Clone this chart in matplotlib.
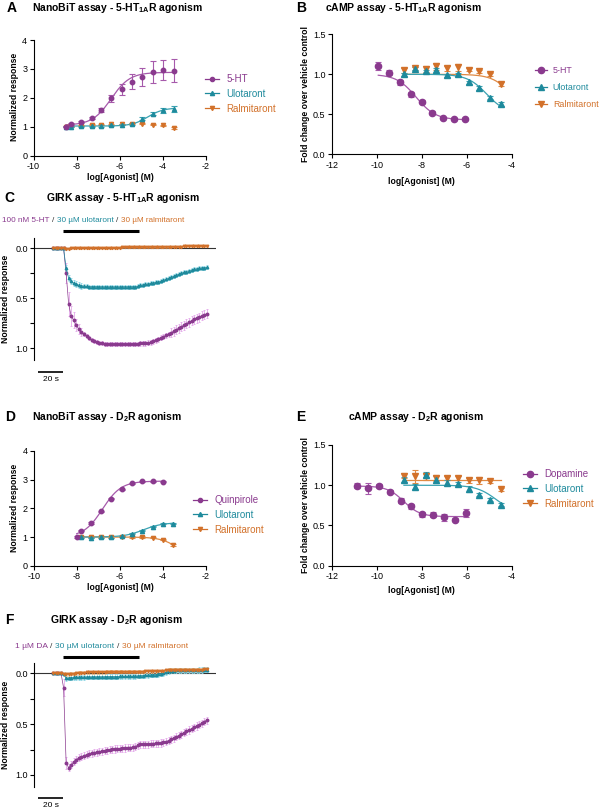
import numpy as np
import matplotlib
matplotlib.use("Agg")
import matplotlib.pyplot as plt
from matplotlib.lines import Line2D

plt.rcParams.update({
    "font.family": ["Liberation Sans", "DejaVu Sans"],
    "mathtext.fontset": "custom",
    "mathtext.rm": "Liberation Sans",
    "mathtext.bf": "Liberation Sans:bold",
    "axes.unicode_minus": False,
    "axes.linewidth": 0.8,
})

W, H = 600, 809

PURPLE, PURPLE_L, PURPLE_E = "#8a3a8e", "#a65aab", "#e4a8ea"
TEAL, TEAL_L, TEAL_E = "#1e8a9c", "#3aa2b2", "#8fd8e6"
ORANGE, ORANGE_L, ORANGE_E = "#d2712a", "#e08a44", "#f0c08e"

# ---- A: NanoBiT 5-HT1A
A_X = [-8.5, -8.25, -7.8, -7.3, -6.85, -6.4, -5.9, -5.45, -4.95, -4.45, -4.0, -3.5]
A_5HT = [1.0, 1.08, 1.15, 1.29, 1.58, 1.98, 2.29, 2.56, 2.72, 2.9, 2.96, 2.94]
A_5HT_ERR = [0.02, 0.03, 0.04, 0.04, 0.06, 0.12, 0.2, 0.25, 0.3, 0.38, 0.35, 0.4]
A_ULO = [1.0, 1.0, 1.01, 1.01, 1.02, 1.04, 1.06, 1.1, 1.28, 1.45, 1.56, 1.61]
A_ULO_ERR = [0.02, 0.02, 0.02, 0.02, 0.02, 0.02, 0.02, 0.03, 0.05, 0.06, 0.1, 0.1]
A_RAL = [1.0, 1.01, 1.03, 1.06, 1.07, 1.08, 1.08, 1.1, 1.1, 1.07, 1.04, 0.95]
A_RAL_ERR = [0.02] * 12
A_FIT_5HT = (1.05, 2.88, -6.4, 1.0)
A_FIT_ULO = (1.02, 1.65, -4.7, 1.2)

# ---- B: cAMP 5-HT1A
B_X_5HT = [-9.93, -9.44, -8.95, -8.47, -8.0, -7.53, -7.04, -6.56, -6.07]
B_5HT = [1.10, 1.02, 0.90, 0.75, 0.66, 0.52, 0.45, 0.44, 0.44]
B_5HT_ERR = [0.05, 0.03, 0.03, 0.03, 0.02, 0.02, 0.01, 0.01, 0.01]
B_X_DRUG = [-8.79, -8.3, -7.82, -7.35, -6.87, -6.4, -5.91, -5.44, -4.96, -4.47]
B_ULO = [1.0, 1.07, 1.04, 1.05, 0.99, 1.0, 0.9, 0.83, 0.71, 0.63]
B_ULO_ERR = [0.02, 0.02, 0.02, 0.03, 0.02, 0.02, 0.02, 0.02, 0.02, 0.03]
B_RAL = [1.05, 1.075, 1.07, 1.10, 1.075, 1.087, 1.06, 1.04, 1.0, 0.88]
B_RAL_ERR = [0.03, 0.02, 0.04, 0.04, 0.03, 0.04, 0.02, 0.02, 0.02, 0.03]
B_FIT_5HT = (1.0, 0.43, -8.25, 1.0)
B_FIT_ULO = (1.0, 0.5, -5.1, 1.0)
B_FIT_RAL = (1.0, 0.5, -4.0, 1.0)

# ---- D: NanoBiT D2
D_X_QUIN = [-8.0, -7.8, -7.33, -6.87, -6.39, -5.91, -5.43, -4.95, -4.47, -4.0]
D_QUIN = [1.0, 1.22, 1.49, 1.9, 2.34, 2.66, 2.87, 2.95, 2.94, 2.93]
D_X_DRUG = [-7.8, -7.33, -6.87, -6.39, -5.91, -5.43, -4.95, -4.47, -4.0, -3.5]
D_ULO = [1.0, 0.98, 1.0, 1.0, 1.03, 1.11, 1.22, 1.36, 1.46, 1.47]
D_RAL = [1.0, 1.0, 1.0, 1.0, 1.01, 1.0, 1.0, 0.97, 0.91, 0.72]
D_ERR = [0.02] * 10
D_FIT_QUIN = (1.0, 2.95, -6.8, 1.0)
D_FIT_ULO = (1.0, 1.5, -4.9, 1.0)
D_FIT_RAL = (1.0, 0.0, -3.1, 1.0)

# ---- E: cAMP D2
E_X_DA = [-10.86, -10.39, -9.91, -9.42, -8.93, -8.46, -7.99, -7.5, -7.02, -6.53, -6.04]
E_DA = [0.996, 0.96, 0.99, 0.92, 0.81, 0.74, 0.64, 0.635, 0.60, 0.57, 0.66]
E_DA_ERR = [0.03, 0.07, 0.02, 0.02, 0.03, 0.03, 0.03, 0.03, 0.04, 0.02, 0.05]
E_X_DRUG = [-8.79, -8.3, -7.82, -7.35, -6.87, -6.4, -5.91, -5.44, -4.96, -4.47]
E_ULO = [1.07, 0.98, 1.13, 1.07, 1.03, 1.02, 0.95, 0.88, 0.82, 0.76]
E_ULO_ERR = [0.03, 0.03, 0.03, 0.04, 0.03, 0.02, 0.04, 0.02, 0.02, 0.02]
E_RAL = [1.12, 1.11, 1.11, 1.09, 1.09, 1.09, 1.06, 1.06, 1.05, 0.95]
E_RAL_ERR = [0.03, 0.08, 0.04, 0.04, 0.03, 0.03, 0.03, 0.04, 0.02, 0.02]
E_FIT_DA = (0.99, 0.61, -8.8, 1.2)
E_FIT_ULO = (1.0, 0.65, -4.7, 1.0)
E_FIT_RAL = (1.06, 1.06, -6.0, 1.0)

# ---- GIRK traces (sampled every 2 s, 0..120 s)
T_STEP = 2
C_5HT = [0, 0, 0, 0, 0,
         0.25, 0.56, 0.68, 0.72, 0.77, 0.81, 0.84, 0.86, 0.88, 0.90,
         0.92, 0.93, 0.94, 0.945, 0.95, 0.952, 0.955, 0.957, 0.958, 0.96,
         0.96, 0.96, 0.96, 0.96, 0.96, 0.96, 0.958, 0.957, 0.955, 0.95,
         0.95, 0.948, 0.945, 0.94, 0.93, 0.92, 0.91, 0.895, 0.885, 0.87,
         0.86, 0.845, 0.83, 0.815, 0.80, 0.785, 0.77, 0.755, 0.74, 0.725,
         0.71, 0.70, 0.69, 0.675, 0.665, 0.655]
C_5HT_ERR = [0.005] * 5 + [0.1, 0.12, 0.1, 0.08, 0.06, 0.05, 0.04] + [0.02] * 22 + [0.025] * 12 + [0.045] * 15
C_ULO = [0, 0, 0, 0, 0,
         0.2, 0.3, 0.33, 0.35, 0.36, 0.37, 0.375, 0.378, 0.38,
         0.382, 0.382, 0.383, 0.383, 0.384, 0.384, 0.385, 0.385, 0.385, 0.385,
         0.385, 0.385, 0.385, 0.384, 0.384, 0.384, 0.383, 0.383, 0.383,
         0.38, 0.37, 0.365, 0.36, 0.355, 0.35, 0.345, 0.34, 0.335, 0.33,
         0.32, 0.31, 0.30, 0.29, 0.28, 0.27, 0.26, 0.25, 0.24, 0.232,
         0.225, 0.218, 0.21, 0.205, 0.2, 0.195, 0.192, 0.19]
C_ULO_ERR = [0.005] * 5 + [0.03] * 7 + [0.02] * 49
C_RAL = [0, 0, 0, 0, 0,
         0.002, 0.002, 0.001, 0.001, 0.0, 0.0, -0.001, -0.001, -0.002, -0.002,
         -0.003, -0.003, -0.004, -0.004, -0.005, -0.005, -0.006, -0.006, -0.007, -0.007,
         -0.008, -0.008, -0.009, -0.009, -0.01, -0.01, -0.011, -0.011, -0.012, -0.012,
         -0.012, -0.013, -0.013, -0.014, -0.014, -0.015, -0.015, -0.015, -0.016, -0.016,
         -0.016, -0.017, -0.017, -0.018, -0.018, -0.018, -0.019, -0.019, -0.02, -0.02,
         -0.02, -0.021, -0.021, -0.022, -0.022, -0.022]
C_RAL_ERR = [0.008] * 61

F_DA = [0, 0, 0, 0, 0.14,
        0.88, 0.93, 0.90, 0.87, 0.85, 0.83, 0.82, 0.81, 0.80, 0.79,
        0.785, 0.78, 0.775, 0.77, 0.765, 0.76, 0.755, 0.75, 0.748, 0.745,
        0.742, 0.74, 0.738, 0.735, 0.733, 0.73, 0.728, 0.72, 0.71, 0.70,
        0.70, 0.698, 0.696, 0.694, 0.692, 0.69, 0.688, 0.685, 0.68, 0.672,
        0.662, 0.65, 0.638, 0.625, 0.612, 0.598, 0.585, 0.572, 0.558, 0.545,
        0.532, 0.518, 0.505, 0.49, 0.475, 0.46]
F_DA_ERR = [0.005] * 4 + [0.08, 0.06] + [0.035] * 55
F_ULO = [0, 0, 0, 0, 0.01,
         0.05, 0.045, 0.042, 0.04,
         0.038, 0.038, 0.037, 0.037, 0.036, 0.036, 0.036, 0.035, 0.035, 0.035, 0.035, 0.034,
         0.034, 0.033, 0.033, 0.032, 0.032, 0.031, 0.031, 0.030, 0.030, 0.029, 0.029, 0.028,
         0.026, 0.024, 0.022, 0.02, 0.018, 0.016, 0.014, 0.012,
         0.008, 0.004, 0.0, -0.012, -0.022,
         -0.026, -0.027, -0.028, -0.028, -0.029, -0.029, -0.03, -0.03, -0.03,
         -0.031, -0.031, -0.032, -0.032, -0.033, -0.033]
F_ULO_ERR = [0.005] * 5 + [0.025] * 56
F_RAL = [0, 0, 0, 0, 0.005,
         0.01, 0.008, 0.005, 0.003, 0.0, -0.003, -0.005, -0.007, -0.008, -0.009, -0.01,
         -0.011, -0.011, -0.012, -0.012, -0.012, -0.013, -0.013, -0.013, -0.014, -0.014,
         -0.014, -0.015, -0.015, -0.015, -0.016, -0.016, -0.016, -0.017, -0.017, -0.017,
         -0.018, -0.018, -0.018, -0.019, -0.019, -0.019, -0.02, -0.02,
         -0.028, -0.032,
         -0.033, -0.033, -0.034, -0.034, -0.035, -0.035, -0.035, -0.036, -0.036,
         -0.036, -0.037, -0.037, -0.037, -0.038, -0.038]
F_RAL_ERR = [0.005] * 5 + [0.015] * 56

DRUG_ON, DRUG_OFF = 7.3, 67.3  # s, application bar


def hill(x, start, end, logec50, slope):
    return start + (end - start) / (1 + 10 ** ((logec50 - x) * slope))


fig = plt.figure(figsize=(W / 100, H / 100), dpi=100)


def add_ax(l, t, r, b):
    return fig.add_axes([l / W, 1 - b / H, (r - l) / W, (b - t) / H])


def ftext(x, y, s, **kw):
    return fig.text(x / W, 1 - y / H, s, **kw)


def style_dose(ax, xlim, xticks, ylim, yticks, yfmt):
    ax.set_xlim(*xlim)
    ax.set_ylim(*ylim)
    ax.set_xticks(xticks)
    ax.set_yticks(yticks)
    ax.set_xticklabels([f"{v:g}" for v in xticks])
    ax.set_yticklabels([yfmt.format(v) for v in yticks])
    for s in ("top", "right"):
        ax.spines[s].set_visible(False)
    ax.tick_params(direction="out", length=3, width=0.8, labelsize=6.5, pad=1.5)


def series(ax, x, y, err, fit, col, lcol, marker, ms):
    ax.errorbar(x, y, yerr=err, fmt=marker, color=col, ecolor=lcol, ms=ms,
                elinewidth=0.8, capsize=2.2, capthick=0.8, zorder=3, clip_on=False)
    if fit is not None:
        xx = np.linspace(min(x), max(x), 200)
        ax.plot(xx, hill(xx, *fit), color=lcol, lw=0.9, zorder=2)


def legend(x, y, labels, cols, markers, ms, spacing, size=7, pad=0.8):
    handles = [Line2D([0], [0], color=c, marker=m, ms=ms, lw=0.9) for c, m in zip(cols, markers)]
    lg = fig.legend(handles, labels, loc="upper left", bbox_to_anchor=(x / W, 1 - y / H),
                    frameon=False, fontsize=size, handlelength=1.4, handletextpad=pad,
                    labelspacing=spacing, borderpad=0, borderaxespad=0)
    for t, c in zip(lg.get_texts(), cols):
        t.set_color(c)


def panel_title(lx, tx, y, letter, title):
    ftext(lx, y, letter, fontsize=10, fontweight="bold", va="center", ha="center")
    ftext(tx, y, title, fontsize=7.5, fontweight="bold", va="center")


def axis_labels(xc, xy, yx, yc, ylabel):
    ftext(xc, xy, "log[Agonist] (M)", fontsize=6.2, fontweight="bold", ha="center", va="center")
    ftext(yx, yc, ylabel, fontsize=6.2, fontweight="bold", ha="center", va="center", rotation=90)


cols = [PURPLE, TEAL, ORANGE]

# ---------- A
axA = add_ax(33.5, 40, 206, 155.5)
style_dose(axA, (-10, -2), [-10, -8, -6, -4, -2], (0, 4), [0, 1, 2, 3, 4], "{:g}")
series(axA, A_X, A_RAL, A_RAL_ERR, None, ORANGE, ORANGE_L, "v", 3)
series(axA, A_X, A_ULO, A_ULO_ERR, A_FIT_ULO, TEAL, TEAL_L, "^", 3)
series(axA, A_X, A_5HT, A_5HT_ERR, A_FIT_5HT, PURPLE, PURPLE_L, "o", 3.2)
legend(205, 74, ["5-HT", "Ulotaront", "Ralmitaront"], cols, ["o", "^", "v"], 3, 0.5)
panel_title(12, 32, 8, "A", r"NanoBiT assay - 5-HT$_{\mathbf{1A}}$R agonism")
axis_labels(120, 178, 15, 97, "Normalized response")

# ---------- B
axB = add_ax(331.7, 34.3, 511.7, 154.3)
style_dose(axB, (-12, -4), [-12, -10, -8, -6, -4], (0, 1.5), [0, 0.5, 1.0, 1.5], "{:.1f}")
series(axB, B_X_DRUG, B_RAL, B_RAL_ERR, B_FIT_RAL, ORANGE, ORANGE_L, "v", 4.5)
series(axB, B_X_DRUG, B_ULO, B_ULO_ERR, B_FIT_ULO, TEAL, TEAL_L, "^", 4.5)
series(axB, B_X_5HT, B_5HT, B_5HT_ERR, B_FIT_5HT, PURPLE, PURPLE_L, "o", 4.5)
legend(535, 66, ["5-HT", "Ulotaront", "Ralmitaront"], cols, ["o", "^", "v"], 4.5, 0.9, size=6.4, pad=0.6)
panel_title(301, 325, 8, "B", r"cAMP assay - 5-HT$_{\mathbf{1A}}$R agonism")
axis_labels(421.7, 181, 305, 94, "Fold change over vehicle control")

# ---------- D
axD = add_ax(33.7, 451, 205.7, 565.7)
style_dose(axD, (-10, -2), [-10, -8, -6, -4, -2], (0, 4), [0, 1, 2, 3, 4], "{:g}")
series(axD, D_X_DRUG, D_RAL, D_ERR, D_FIT_RAL, ORANGE, ORANGE_L, "v", 3)
series(axD, D_X_DRUG, D_ULO, D_ERR, D_FIT_ULO, TEAL, TEAL_L, "^", 3)
series(axD, D_X_QUIN, D_QUIN, D_ERR, D_FIT_QUIN, PURPLE, PURPLE_L, "o", 3.2)
legend(193, 495, ["Quinpirole", "Ulotaront", "Ralmitaront"], cols, ["o", "^", "v"], 3, 0.5)
panel_title(10, 32, 417, "D", r"NanoBiT assay - D$_{\mathbf{2}}$R agonism")
axis_labels(120, 588, 15, 508, "Normalized response")

# ---------- E
axE = add_ax(331.7, 445, 511.7, 565.7)
style_dose(axE, (-12, -4), [-12, -10, -8, -6, -4], (0, 1.5), [0, 0.5, 1.0, 1.5], "{:.1f}")
series(axE, E_X_DRUG, E_RAL, E_RAL_ERR, E_FIT_RAL, ORANGE, ORANGE_L, "v", 4.5)
series(axE, E_X_DRUG, E_ULO, E_ULO_ERR, E_FIT_ULO, TEAL, TEAL_L, "^", 4.5)
series(axE, E_X_DA, E_DA, E_DA_ERR, E_FIT_DA, PURPLE, PURPLE_L, "o", 4.5)
legend(523, 469, ["Dopamine", "Ulotaront", "Ralmitaront"], cols, ["o", "^", "v"], 4.5, 0.5)
panel_title(301, 348, 417, "E", r"cAMP assay - D$_{\mathbf{2}}$R agonism")
axis_labels(421.7, 590.7, 305, 505, "Fold change over vehicle control")


# ---------- GIRK traces
def girk(ax, traces, bar_y, scale_y):
    t = np.arange(len(traces[0][0])) * T_STEP
    ax.set_xlim(-15.1, 127.1)
    for s in ("top", "right", "bottom"):
        ax.spines[s].set_visible(False)
    ax.set_xticks([])
    ax.set_yticks([0, 0.5, 1.0])
    ax.set_yticklabels(["0.0", "0.5", "1.0"])
    ax.set_yticks([0.25, 0.75], minor=True)
    ax.tick_params(which="both", direction="out", length=3, width=0.8, labelsize=6.5, pad=1.5)
    ax.axhline(0, color="#333333", lw=0.8, zorder=1)
    for (y, err), col, ecol, m in zip(traces, cols, [PURPLE_E, TEAL_E, ORANGE_E], ["o", "^", "v"]):
        ax.errorbar(t, y, yerr=err, fmt="-" + m, color=col, ecolor=ecol, ms=1.8, lw=0.5,
                    elinewidth=0.6, capsize=1.0, capthick=0.6, zorder=3)
    ax.plot([DRUG_ON, DRUG_OFF], [bar_y, bar_y], color="black", lw=2.2, clip_on=False,
            solid_capstyle="butt")
    ax.plot([-12.2, 7.8], [scale_y, scale_y], color="black", lw=1.2, clip_on=False,
            solid_capstyle="butt")
    ax.text(-2.2, scale_y + 0.04, "20 s", fontsize=6, ha="center", va="top")


def chain_text(x, y, parts, size=5.9, gap=2.5):
    r = fig.canvas.get_renderer()
    for s, c in parts:
        tx = ftext(x, y, s, fontsize=size, color=c, va="center")
        x += tx.get_window_extent(renderer=r).width + gap


axC = add_ax(34, 238.3, 216, 360.3)
axC.set_ylim(1.12, -0.1)
girk(axC, [(C_5HT, C_5HT_ERR), (C_ULO, C_ULO_ERR), (C_RAL, C_RAL_ERR)], -0.173, 1.237)
panel_title(9, 46, 198, "C", r"GIRK assay - 5-HT$_{\mathbf{1A}}$R agonism")
chain_text(2, 221, [("100 nM 5-HT", PURPLE), ("/", "#333333"), ("30 µM ulotaront", TEAL),
                    ("/", "#333333"), ("30 µM ralmitaront", ORANGE)])
ftext(6, 299, "Normalized response", fontsize=6.2, fontweight="bold", ha="center", va="center", rotation=90)

axF = add_ax(34, 662.6, 216, 787.2)
axF.set_ylim(1.12, -0.105)
girk(axF, [(F_DA, F_DA_ERR), (F_ULO, F_ULO_ERR), (F_RAL, F_RAL_ERR)], -0.163, 1.226)
panel_title(9, 50, 620, "F", r"GIRK assay - D$_{\mathbf{2}}$R agonism")
chain_text(15, 647, [("1 µM DA", PURPLE), ("/", "#333333"), ("30 µM ulotaront", TEAL),
                     ("/", "#333333"), ("30 µM ralmitaront", ORANGE)], size=6.0)
ftext(6, 725, "Normalized response", fontsize=6.2, fontweight="bold", ha="center", va="center", rotation=90)

fig.savefig("out.png", dpi=100)
